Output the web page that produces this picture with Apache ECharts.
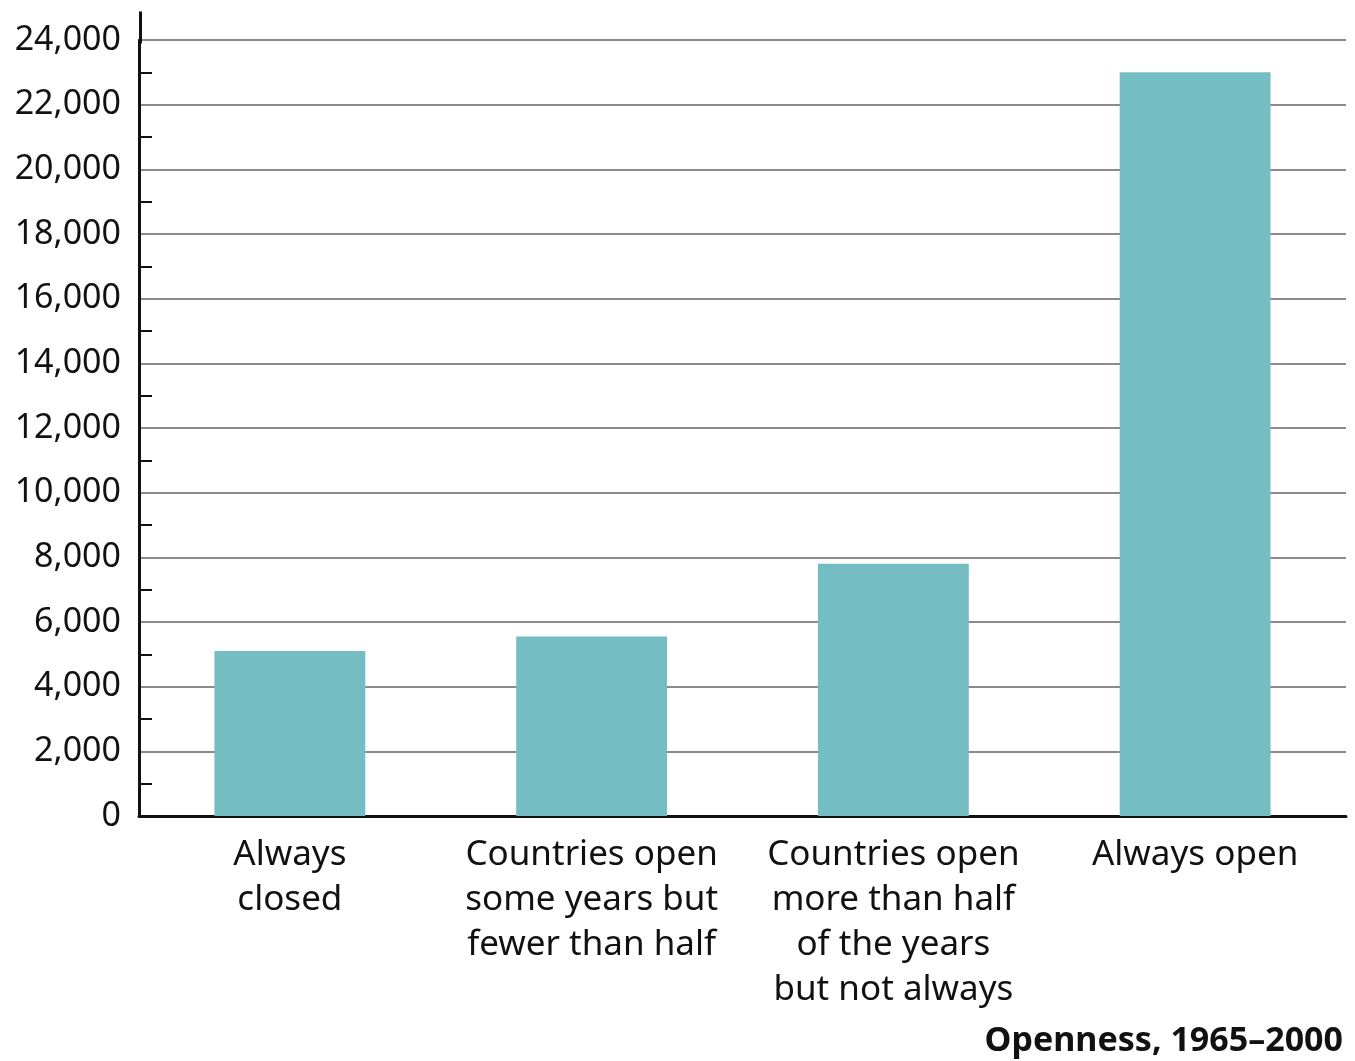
<!DOCTYPE html>
<html>
<head>
<meta charset="utf-8">
<script src="https://cdn.jsdelivr.net/npm/echarts@6/dist/echarts.min.js"></script>
<style>
html,body{margin:0;padding:0;background:#fff;}
#chart{width:1355px;height:1061px;}
</style>
</head>
<body>
<div id="chart"></div>
<script>
const categories = [
  "Always\nclosed",
  "Countries open\nsome years but\nfewer than half",
  "Countries open\nmore than half\nof the years\nbut not always",
  "Always open"
];
const values = [5100, 5550, 7800, 23000];
const yMin = 0, yMax = 24000, yStep = 2000;
const axisTitle = "Openness, 1965\u20132000";

const FONT = "Noto Sans";
const chart = echarts.init(document.getElementById('chart'), null, {renderer: 'canvas'});
chart.setOption({
  backgroundColor: '#ffffff',
  animation: false,
  title: {
    text: axisTitle,
    right: 7,
    top: 1019,
    textStyle: {fontFamily: FONT, fontSize: 34, fontWeight: 'bold', color: '#111'}
  },
  grid: {left: 139, right: 9, top: 40, bottom: 245, containLabel: false},
  xAxis: {
    type: 'category',
    data: categories,
    axisLine: {show: true, lineStyle: {color: '#111', width: 3}},
    axisTick: {show: false},
    axisLabel: {
      interval: 0, margin: 17, fontFamily: FONT, fontSize: 35, lineHeight: 45,
      color: '#111', align: 'center', verticalAlign: 'top'
    }
  },
  yAxis: {
    type: 'value',
    min: yMin, max: yMax, interval: yStep,
    axisLine: {show: true, lineStyle: {color: '#111', width: 3}},
    axisTick: {show: false, inside: true},
    minorTick: {show: true, splitNumber: 2, length: 13, lineStyle: {color: '#111', width: 2}},
    splitLine: {show: true, lineStyle: {color: '#8a8a8a', width: 2}},
    axisLabel: {
      margin: 18, fontFamily: FONT, fontSize: 34, color: '#111',
      formatter: v => v.toLocaleString('en-US')
    }
  },
  graphic: [{
    type: 'line', left: 138, top: 9, z: 10,
    shape: {x1: 0, y1: 0, x2: 0, y2: 32},
    style: {stroke: '#111', lineWidth: 3}
  }],
  series: [{
    type: 'bar',
    data: values,
    barWidth: '50%',
    itemStyle: {color: '#74BEC3'}
  }]
});
</script>
</body>
</html>
